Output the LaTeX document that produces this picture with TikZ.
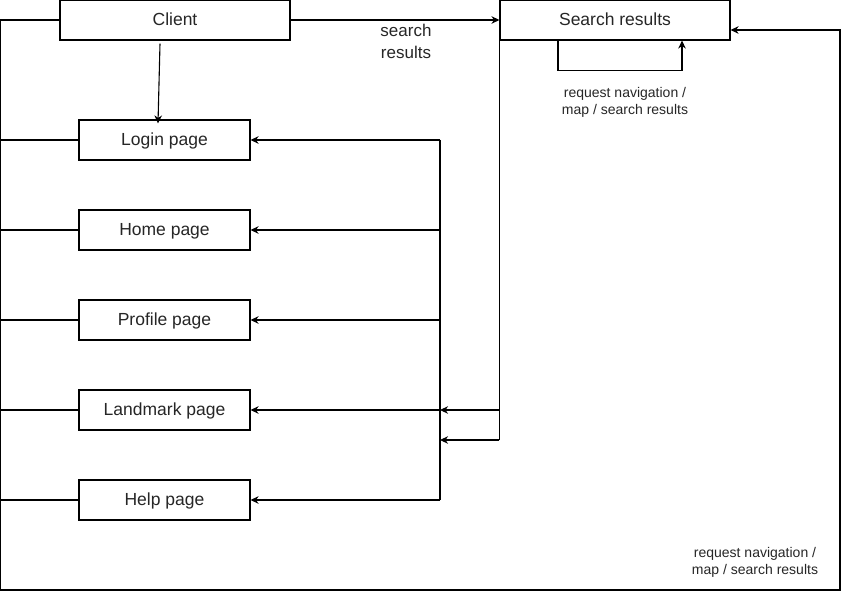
\documentclass[tikz,border=0pt]{standalone}
\usepackage{fontspec}
\setmainfont{Liberation Sans}
\usetikzlibrary{arrows.meta,calc}
\begin{document}
\begin{tikzpicture}[x=1pt,y=-1pt,
  line width=1.1pt,
  box/.style={draw,fill=white,minimum width=230pt,minimum height=40pt,inner sep=0pt,
    text height=12.5pt,text depth=1.1pt,
    font=\fontsize{17.5}{21}\selectfont,text=black!85},
  pagebox/.style={box,minimum width=171pt},
  lbl/.style={font=\fontsize{17}{22}\selectfont,text=black!85,align=center,inner sep=0pt},
  slbl/.style={font=\fontsize{14}{17}\selectfont,text=black!85,align=center,inner sep=0pt},
  arr/.style={-{Stealth[length=8pt,width=7.5pt,inset=2.5pt]}}]
\useasboundingbox (0,0) rectangle (850,593);
\coordinate (L) at (0,0);
\coordinate (B) at (440,0);
\coordinate (R) at (840,590);

\node[box] (client) at (175,20) {Client};
\node[box] (search) at (615,20) {Search results};
\node[pagebox] (login) at (164.5,140) {Login page};
\node[pagebox] (home) at (164.5,230) {Home page};
\node[pagebox] (profile) at (164.5,320) {Profile page};
\node[pagebox] (landmark) at (164.5,410) {Landmark page};
\node[pagebox] (help) at (164.5,500) {Help page};

\node[lbl] (sr) at (406,41) {search\\results};
\node[slbl] (rq1) at (625,102) {request navigation /\\map / search results};
\node[slbl] (rq2) at (755,562) {request navigation /\\map / search results};

\coordinate (sin) at ([yshift=-10pt]search.east);

% client to search results
\draw[arr] (client.east) -- (search.west);
% client to login
\draw[arr] ([xshift=-15pt,yshift=-3pt]client.south) -- ([xshift=-6.5pt,yshift=-4pt]login.north);
% outer frame
\draw[arr] (client.west) -- (client.west -| L) -- (L |- R) -- (R) -- (R |- sin) -- (sin);
% left lines
\foreach \p in {login,home,profile,landmark,help}{
  \draw (\p.west -| L) -- (\p.west);
}
% right bus
\draw (login.east -| B) -- (help.east -| B);
\foreach \p in {login,home,profile,landmark,help}{
  \draw[arr] (\p.east -| B) -- (\p.east);
}
% search results vertical
\coordinate (s1) at (landmark.east -| B);
\coordinate (s2) at ($(landmark.east -| B)+(0,30)$);
\draw (search.south west) -- (search.south west |- s2);
\draw[arr] (search.south west |- s1) -- (s1);
\draw[arr] (search.south west |- s2) -- (s2);
% self loop
\draw[arr] ([xshift=-57pt]search.south) -- ++(0,30) -| ([xshift=67pt]search.south);
\end{tikzpicture}
\end{document}
